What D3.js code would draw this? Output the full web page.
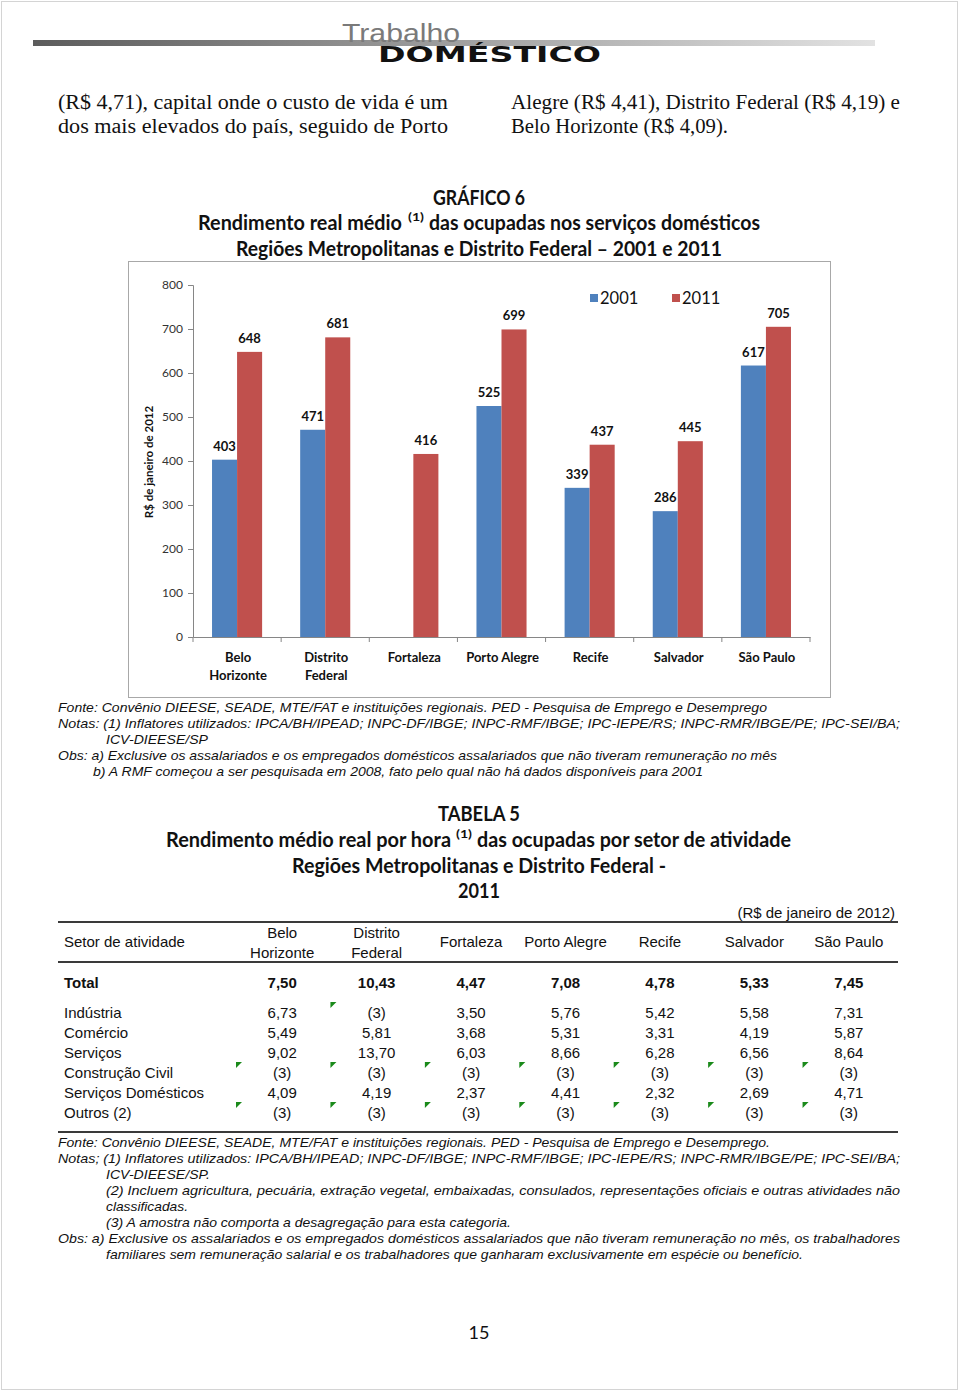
<!DOCTYPE html>
<html><head><meta charset="utf-8">
<script src="https://cdn.jsdelivr.net/npm/d3@7"></script>
<style>body{margin:0;background:#fff}svg{display:block}</style>
</head><body>
<script>
// ---------- DATA ----------
const categories = ["Belo Horizonte","Distrito Federal","Fortaleza","Porto Alegre","Recife","Salvador","São Paulo"];
const series = ["2001","2011"];
const values2001 = [403,471,null,525,339,286,617];
const values2011 = [648,681,416,699,437,445,705];
const yTicks = [0,100,200,300,400,500,600,700,800];

const tableCols = ["Belo Horizonte","Distrito Federal","Fortaleza","Porto Alegre","Recife","Salvador","São Paulo"];
const sectors = ["Total","Indústria","Comércio","Serviços","Construção Civil","Serviços Domésticos","Outros (2)"];
const rowTotal = ["7,50","10,43","4,47","7,08","4,78","5,33","7,45"];
const rowIndustria = ["6,73","(3)","3,50","5,76","5,42","5,58","7,31"];
const rowComercio = ["5,49","5,81","3,68","5,31","3,31","4,19","5,87"];
const rowServicos = ["9,02","13,70","6,03","8,66","6,28","6,56","8,64"];
const rowConstrucao = ["(3)","(3)","(3)","(3)","(3)","(3)","(3)"];
const rowDomesticos = ["4,09","4,19","2,37","4,41","2,32","2,69","4,71"];
const rowOutros = ["(3)","(3)","(3)","(3)","(3)","(3)","(3)"];
const tableRows = [rowTotal,rowIndustria,rowComercio,rowServicos,rowConstrucao,rowDomesticos,rowOutros];
// cells flagged with Excel's green indicator: [row, col]
const flaggedCells = [[1,1],[4,0],[4,1],[4,2],[4,3],[4,4],[4,5],[4,6],[6,0],[6,1],[6,2],[6,3],[6,4],[6,5],[6,6]];

// ---------- SETUP ----------
const W = 960, H = 1392;
const svg = d3.select("body").append("svg").attr("width", W).attr("height", H);
const SANS = "Lato, 'Open Sans', sans-serif";
const ARIAL = "'Liberation Sans', Arial, sans-serif";
const ITAL = "'Liberation Sans', Arial, sans-serif";
const SERIF = "'Liberation Serif', 'Times New Roman', serif";

svg.append("rect").attr("x",1.5).attr("y",1.5).attr("width",956).attr("height",1388)
  .attr("fill","#fff").attr("stroke","#d4d4d4");

// header
const grad = svg.append("defs").append("linearGradient").attr("id","hg");
grad.append("stop").attr("offset","0%").attr("stop-color","#5c5c5c");
grad.append("stop").attr("offset","100%").attr("stop-color","#e2e2e2");
svg.append("rect").attr("x",33).attr("y",40).attr("width",842).attr("height",6).attr("fill","url(#hg)");
svg.append("text").attr("x",342).attr("y",42).attr("font-family",ARIAL).attr("font-size",25)
  .attr("fill","#7a7a7a").attr("textLength",118).attr("lengthAdjust","spacingAndGlyphs").text("Trabalho");
svg.append("text").attr("x",378).attr("y",62).attr("font-family","'DejaVu Sans', sans-serif").attr("font-weight",900)
  .attr("font-size",22).attr("fill","#111").attr("textLength",223).attr("lengthAdjust","spacingAndGlyphs").text("DOMÉSTICO");

// text helper
function line(x,y,txt,len,font,size,opts={}){
  const t = svg.append("text").attr("x",x).attr("y",y).attr("font-family",font).attr("font-size",size)
    .attr("fill",opts.fill||"#111").text(txt);
  if(len) t.attr("textLength",len).attr("lengthAdjust","spacingAndGlyphs");
  if(opts.italic) t.attr("font-style","italic");
  if(opts.bold) t.attr("font-weight","bold");
  if(opts.anchor) t.attr("text-anchor",opts.anchor);
  return t;
}
line(58,109,"(R$ 4,71), capital onde o custo de vida é um",390,SERIF,20);
line(58,133,"dos mais elevados do país, seguido de Porto",390,SERIF,20);
line(511,109,"Alegre (R$ 4,41), Distrito Federal (R$ 4,19) e",389,SERIF,20);
line(511,133,"Belo Horizonte (R$ 4,09).",217,SERIF,20);

// chart titles
line(433,205,"GRÁFICO 6",92,SANS,20,{bold:true});
line(198,230,"Rendimento real médio",204,SANS,20,{bold:true});
line(408,221,"(1)",16,SANS,12,{bold:true});
line(429,230,"das ocupadas nos serviços domésticos",331,SANS,20,{bold:true});
line(236,256,"Regiões Metropolitanas e Distrito Federal – 2001 e 2011",486,SANS,20,{bold:true});

// chart box
svg.append("rect").attr("x",128.5).attr("y",261.5).attr("width",702).attr("height",436)
  .attr("fill","#fff").attr("stroke","#a8a8a8");

// ---------- CHART ----------
const y = d3.scaleLinear().domain([0,800]).range([637,285]);
const x = d3.scaleBand().domain(categories).range([193,810]).paddingInner(0).paddingOuter(0);
const x1 = d3.scaleBand().domain(series).range([0,x.bandwidth()]).paddingInner(0).paddingOuter(0.76);
const colors = {"2001":"#4F81BD","2011":"#C0504D"};

const yAxis = svg.append("g").attr("transform","translate(193,0)")
  .call(d3.axisLeft(y).tickValues(yTicks).tickSize(5).tickPadding(5));
yAxis.select(".domain").attr("stroke","#868686");
yAxis.selectAll(".tick line").attr("stroke","#868686");
yAxis.selectAll(".tick text").attr("font-family",SANS).attr("font-size",12).attr("fill","#333");

const xAxis = svg.append("g").attr("transform","translate(0,637)")
  .call(d3.axisBottom(x).tickSize(0).tickFormat(""));
xAxis.select(".domain").attr("stroke","#868686");
xAxis.selectAll(".tick line").remove();
const bounds = categories.map(c => x(c)).concat([x(categories[categories.length-1]) + x.bandwidth()]);
svg.append("g").selectAll("line").data(bounds).join("line")
  .attr("x1",d=>d).attr("x2",d=>d).attr("y1",637).attr("y2",642).attr("stroke","#868686");

// category labels
const catG = svg.append("g").selectAll("text").data(categories).join("text")
  .attr("text-anchor","middle")
  .attr("font-family",SANS).attr("font-size",13).attr("font-weight","bold").attr("fill","#111");
catG.each(function(d){
  const parts = (d==="Belo Horizonte"||d==="Distrito Federal") ? d.split(" ") : [d];
  d3.select(this).selectAll("tspan").data(parts).join("tspan")
    .attr("x",x(d)+x.bandwidth()/2+1).attr("y",(p,i)=>662+i*18).text(p=>p);
});

const barData = [];
categories.forEach((c,i)=>{
  if(values2001[i]!=null) barData.push({cat:c,s:"2001",v:values2001[i]});
  if(values2011[i]!=null) barData.push({cat:c,s:"2011",v:values2011[i]});
});
svg.append("g").selectAll("rect").data(barData).join("rect")
  .attr("x",d=>x(d.cat)+x1(d.s)).attr("width",x1.bandwidth())
  .attr("y",d=>y(d.v)).attr("height",d=>y(0)-y(d.v)).attr("fill",d=>colors[d.s]);
svg.append("g").selectAll("text").data(barData).join("text")
  .attr("x",d=>x(d.cat)+x1(d.s)+x1.bandwidth()/2).attr("y",d=>y(d.v)-9)
  .attr("text-anchor","middle").attr("font-family",SANS).attr("font-size",13).attr("font-weight","bold")
  .attr("fill","#111").text(d=>d.v);

// y label
svg.append("text").attr("transform","translate(153,462) rotate(-90)").attr("text-anchor","middle")
  .attr("font-family",SANS).attr("font-size",11.5).attr("font-weight","bold").attr("fill","#111")
  .text("R$ de janeiro de 2012");

// legend
const leg = svg.append("g").selectAll("g").data(series).join("g")
  .attr("transform",(d,i)=>`translate(${590+i*82},0)`);
leg.append("rect").attr("x",0).attr("y",294).attr("width",8).attr("height",8).attr("fill",d=>colors[d]);
leg.append("text").attr("x",10).attr("y",304).attr("font-family",SANS).attr("font-size",16.5)
  .attr("fill","#111").text(d=>d);

// chart notes
line(58,712,"Fonte: Convênio DIEESE, SEADE, MTE/FAT e instituições regionais. PED - Pesquisa de Emprego e Desemprego",709,ITAL,13.5,{italic:true});
line(58,728,"Notas: (1) Inflatores utilizados: IPCA/BH/IPEAD; INPC-DF/IBGE; INPC-RMF/IBGE; IPC-IEPE/RS; INPC-RMR/IBGE/PE; IPC-SEI/BA;",842,ITAL,13.5,{italic:true});
line(106,744,"ICV-DIEESE/SP",102,ITAL,13.5,{italic:true});
line(58,760,"Obs: a) Exclusive os assalariados e os empregados domésticos assalariados que não tiveram remuneração no mês",719,ITAL,13.5,{italic:true});
line(93,776,"b) A RMF começou a ser pesquisada em 2008, fato pelo qual não há dados disponíveis para 2001",610,ITAL,13.5,{italic:true});

// ---------- TABLE ----------
line(438,821,"TABELA 5",82,SANS,20,{bold:true});
line(166,847,"Rendimento médio real por hora",285,SANS,20,{bold:true});
line(456,838,"(1)",16,SANS,12,{bold:true});
line(477,847,"das ocupadas por setor de atividade",314,SANS,20,{bold:true});
line(292,873,"Regiões Metropolitanas e Distrito Federal -",374,SANS,20,{bold:true});
line(458,898,"2011",42,SANS,20,{bold:true});

const TF = 15;
line(895,918,"(R$ de janeiro de 2012)",null,ARIAL,TF,{anchor:"end"});

const cx = d3.scaleBand().domain(tableCols).range([235,896]);
[922,962,1132].forEach(yy=>{
  svg.append("line").attr("x1",58).attr("x2",898).attr("y1",yy).attr("y2",yy).attr("stroke","#3a3a3a").attr("stroke-width",2);
});
line(64,947,"Setor de atividade",null,ARIAL,TF);
const hdr = svg.append("g").selectAll("text").data(tableCols).join("text")
  .attr("text-anchor","middle").attr("font-family",ARIAL).attr("font-size",TF).attr("fill","#111");
hdr.each(function(d){
  const parts = (d==="Belo Horizonte"||d==="Distrito Federal") ? d.split(" ") : [d];
  const cxm = cx(d)+cx.bandwidth()/2;
  d3.select(this).selectAll("tspan").data(parts).join("tspan")
    .attr("x",cxm).attr("y",(p,i)=> parts.length===1 ? 947 : 938+i*20).text(p=>p);
});

const rowY = i => i===0 ? 988 : 1018 + (i-1)*20;
sectors.forEach((s,i)=>{
  line(64,rowY(i),s,null,ARIAL,TF,{bold:i===0});
  svg.append("g").selectAll("text").data(tableRows[i]).join("text")
    .attr("x",(d,j)=>cx(tableCols[j])+cx.bandwidth()/2).attr("y",rowY(i))
    .attr("text-anchor","middle").attr("font-family",ARIAL).attr("font-size",TF)
    .attr("font-weight",i===0?"bold":"normal").attr("fill","#111").text(d=>d);
});
svg.append("g").selectAll("path").data(flaggedCells).join("path")
  .attr("d",d=>{const x0=cx(tableCols[d[1]])+1, y0=rowY(d[0])-16; return `M${x0},${y0}L${x0+6},${y0}L${x0},${y0+6}Z`;})
  .attr("fill","#1a8a1a");

// table notes
line(58,1147,"Fonte: Convênio DIEESE, SEADE, MTE/FAT e instituições regionais. PED - Pesquisa de Emprego e Desemprego.",712,ITAL,13.5,{italic:true});
line(58,1163,"Notas; (1) Inflatores utilizados: IPCA/BH/IPEAD; INPC-DF/IBGE; INPC-RMF/IBGE; IPC-IEPE/RS; INPC-RMR/IBGE/PE; IPC-SEI/BA;",842,ITAL,13.5,{italic:true});
line(106,1179,"ICV-DIEESE/SP.",104,ITAL,13.5,{italic:true});
line(106,1195,"(2) Incluem agricultura, pecuária, extração vegetal, embaixadas, consulados, representações oficiais e outras atividades não",794,ITAL,13.5,{italic:true});
line(106,1211,"classificadas.",82,ITAL,13.5,{italic:true});
line(106,1227,"(3) A amostra não comporta a desagregação para esta categoria.",405,ITAL,13.5,{italic:true});
line(58,1243,"Obs: a) Exclusive os assalariados e os empregados domésticos assalariados que não tiveram remuneração no mês, os trabalhadores",842,ITAL,13.5,{italic:true});
line(106,1259,"familiares sem remuneração salarial e os trabalhadores que ganharam exclusivamente em espécie ou benefício.",697,ITAL,13.5,{italic:true});

line(479,1339,"15",null,SANS,18,{anchor:"middle"});
</script>
</body></html>
